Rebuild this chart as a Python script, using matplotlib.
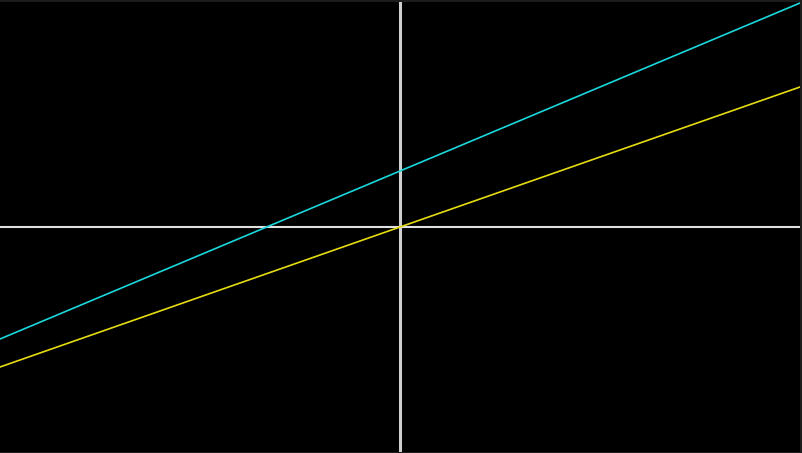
import matplotlib
matplotlib.use("Agg")
import matplotlib.pyplot as plt

# two straight lines through the plane, sampled at the ends of the view
x_vals = [-10, 10]
cyan_y = [-2.8, 5.6]
yellow_y = [-3.5, 3.5]

fig = plt.figure(figsize=(8.02, 4.53), dpi=100, facecolor="#1c1c1c")
ax = fig.add_axes([0, 1 / 453, 800 / 802, 450 / 453])
ax.set_facecolor("black")

ax.axvline(0, color="#cfcfcf", linewidth=2.2)
ax.axhline(0, color="#e0e0e0", linewidth=1.5)

ax.plot(x_vals, cyan_y, color="#1ad8dc", linewidth=1.2)
ax.plot(x_vals, yellow_y, color="#e6dc10", linewidth=1.2)

ax.set_xlim(-10, 10)
ax.set_ylim(-5.625, 5.625)
ax.set_xticks([])
ax.set_yticks([])
for s in ax.spines.values():
    s.set_visible(False)

fig.savefig("out.png", dpi=100, facecolor=fig.get_facecolor())
plt.close()
